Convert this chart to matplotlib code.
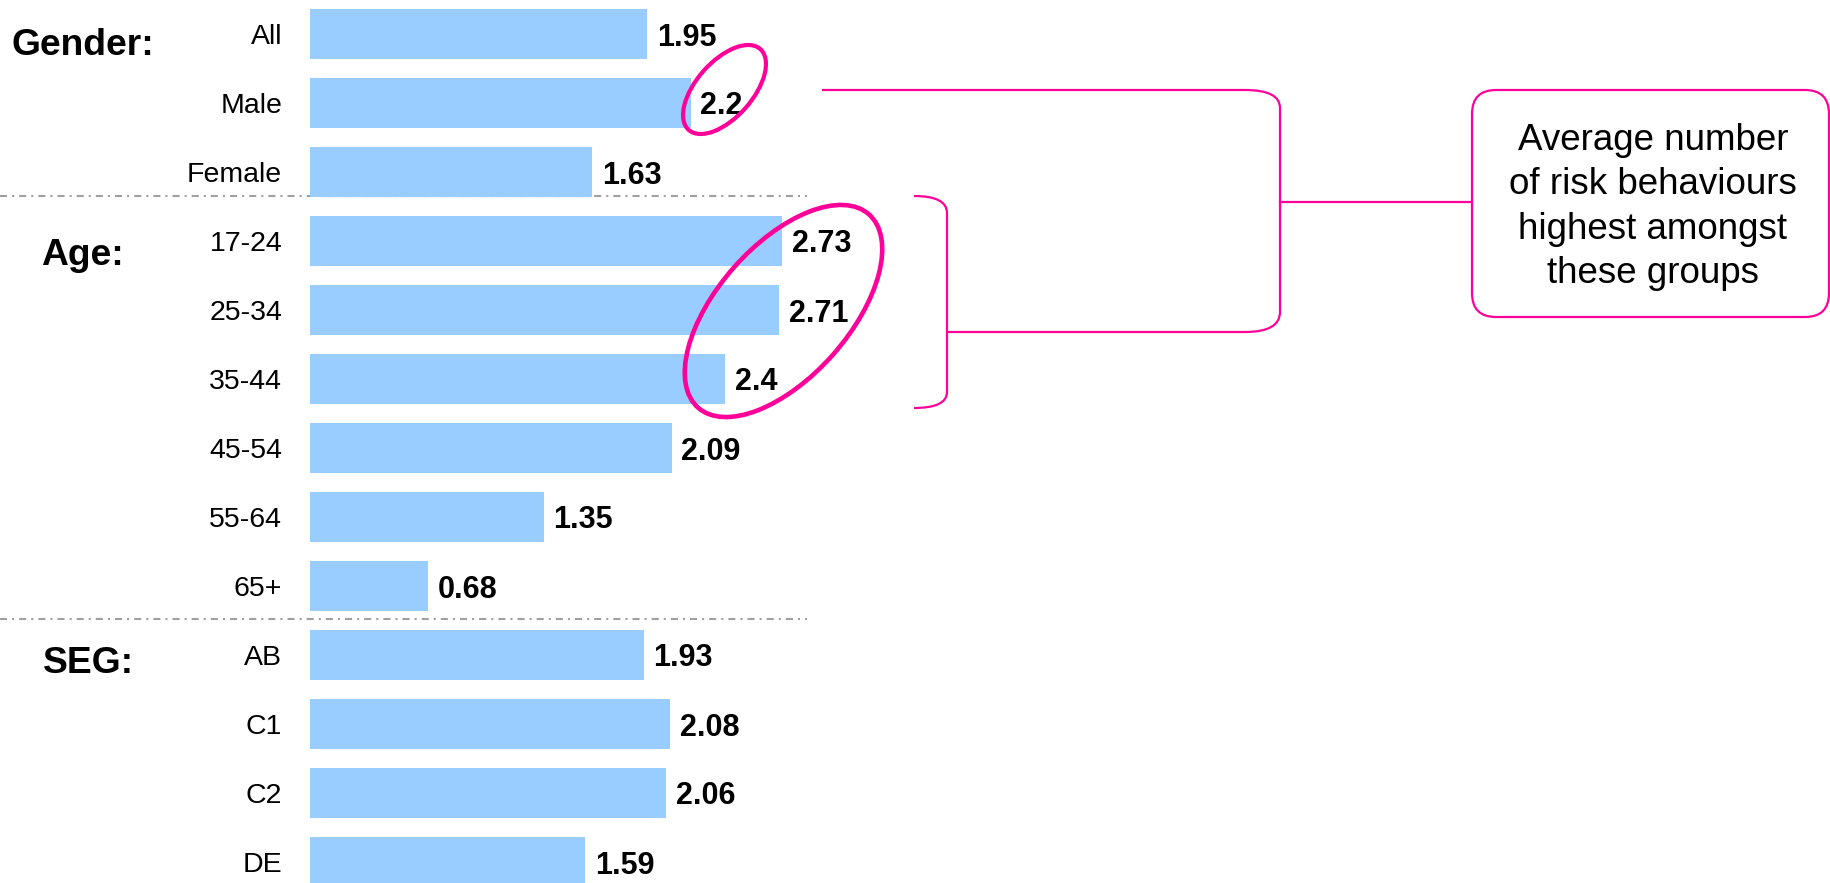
import matplotlib.pyplot as plt
from matplotlib.patches import Ellipse, FancyBboxPatch, PathPatch
from matplotlib.path import Path

plt.rcParams['font.family'] = ['Liberation Sans', 'DejaVu Sans']

# data
categories = ["All", "Male", "Female",
              "17-24", "25-34", "35-44", "45-54", "55-64", "65+",
              "AB", "C1", "C2", "DE"]
values = [1.95, 2.2, 1.63,
          2.73, 2.71, 2.4, 2.09, 1.35, 0.68,
          1.93, 2.08, 2.06, 1.59]
groups = ["Gender:", "Age:", "SEG:"]
callout_text = "Average number\nof risk behaviours\nhighest amongst\nthese groups"

W, H = 1831, 883
BAR = "#99ccff"
PINK = "#ff0099"

fig = plt.figure(figsize=(W / 100, H / 100), dpi=100)

# bar axes: left edge at 310 px, 173 px per unit, rows 69 px apart from y=34
x0 = 310
ax = fig.add_axes([x0 / W, 0, (W - x0) / W, 1])
ax.set_xlim(0, (W - x0) / 173)
ax.set_ylim((H - 34) / 69, -34 / 69)
ax.barh(range(len(values)), values, height=50 / 69, color=BAR, zorder=2)
ax.set_yticks(range(len(categories)), categories)
ax.tick_params(axis="y", length=0, pad=20, labelsize=20.5)
ax.set_xticks([])
for s in ax.spines.values():
    s.set_visible(False)
for i, v in enumerate(values):
    ax.annotate(f"{v:g}", (v, i), xytext=(7, 0), textcoords="offset points",
                va="center_baseline", ha="left", fontsize=22, fontweight="bold")

# dash-dot separators between groups
for y in [(196 - 34) / 69, (619 - 34) / 69]:
    ax.axhline(y, xmin=-x0 / (W - x0), xmax=(807 - x0) / (W - x0), clip_on=False,
               color="#a0a0a0", lw=1.5, ls=(0, (3.4, 2.4, 1, 2.4)), zorder=1)

# overlay in pixel coordinates for labels and callouts
ov = fig.add_axes([0, 0, 1, 1], zorder=3)
ov.set_xlim(0, W)
ov.set_ylim(H, 0)
ov.axis("off")
ov.patch.set_alpha(0)

for label, x, y in zip(groups, [12, 41, 43], [55, 265, 673]):
    ov.text(x, y, label, ha="left", va="baseline", fontsize=26.8, fontweight="bold")

ov.add_patch(Ellipse((724.5, 89.5), 108, 56, angle=-48.5, fill=False,
                     ec=PINK, lw=3))
ov.add_patch(Ellipse((783.5, 311), 258, 132, angle=-48.5, fill=False,
                     ec=PINK, lw=3.3))

L, C, M = Path.LINETO, Path.CURVE3, Path.MOVETO
bracket1 = Path([(822, 90), (1245, 90), (1280, 90), (1280, 108), (1280, 312),
                 (1280, 332), (1245, 332), (947, 332)],
                [M, L, C, C, L, C, C, L])
bracket2 = Path([(914, 196), (947, 196), (947, 213), (947, 392),
                 (947, 408), (914, 408)],
                [M, C, C, L, C, C])
for p in (bracket1, bracket2):
    ov.add_patch(PathPatch(p, fill=False, ec=PINK, lw=1.6))
ov.plot([1280, 1472], [202, 202], color=PINK, lw=1.6)

ov.add_patch(FancyBboxPatch((1472, 90), 357, 227,
                            boxstyle="round,pad=0,rounding_size=24",
                            fc="white", ec=PINK, lw=1.6))
ov.text(1653, 207, callout_text, ha="center", va="center", fontsize=26.5,
        linespacing=1.35)

fig.savefig("out.png", dpi=100)
